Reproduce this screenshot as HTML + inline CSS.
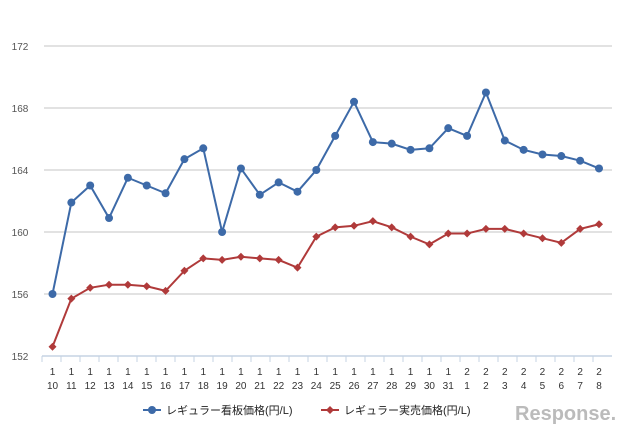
<!DOCTYPE html>
<html><head><meta charset="utf-8"><style>
body{margin:0;background:#fff;width:640px;height:435px;overflow:hidden}
svg text{font-family:"Liberation Sans","Noto Sans CJK JP",sans-serif}
</style></head><body>
<svg id="c" width="640" height="435"></svg>
<script>
const dates=["1/10","1/11","1/12","1/13","1/14","1/15","1/16","1/17","1/18","1/19","1/20","1/21","1/22","1/23","1/24","1/25","1/26","1/27","1/28","1/29","1/30","1/31","2/1","2/2","2/3","2/4","2/5","2/6","2/7","2/8"];
const signPrice=[156,161.9,163,160.9,163.5,163,162.5,164.7,165.4,160,164.1,162.4,163.2,162.6,164,166.2,168.4,165.8,165.7,165.3,165.4,166.7,166.2,169,165.9,165.3,165,164.9,164.6,164.1];
const actualPrice=[152.6,155.7,156.4,156.6,156.6,156.5,156.2,157.5,158.3,158.2,158.4,158.3,158.2,157.7,159.7,160.3,160.4,160.7,160.3,159.7,159.2,159.9,159.9,160.2,160.2,159.9,159.6,159.3,160.2,160.5];
const yTicks=[152,156,160,164,168,172];
const NS="http://www.w3.org/2000/svg",svg=document.getElementById('c');
function mk(t,a,p){const e=document.createElementNS(NS,t);for(const k in a)e.setAttribute(k,a[k]);(p||svg).appendChild(e);return e;}
const x=i=>52.5+i*(599-52.5)/(dates.length-1);
const y=v=>356-(v-152)*15.5;
yTicks.forEach(t=>{
 if(t>152){const g=mk('line',{x1:44,x2:612,y1:y(t),y2:y(t),stroke:'#d9d9d9','stroke-width':1.5});
 }
 const l=mk('text',{x:20,y:y(t)+4,'font-size':10,fill:'#555','text-anchor':'middle'});l.textContent=t;
 
});
const ax=mk('line',{x1:42,x2:612,y1:356,y2:356,stroke:'#c5d3e3','stroke-width':1.5});

dates.forEach((d,i)=>{
 const tx=42+(i+1)*(570/dates.length);
 const tk=mk('line',{x1:tx-0.5*(570/dates.length)+0.5*(570/dates.length)-(570/dates.length)+ (570/dates.length),x2:0,y1:356,y2:362,stroke:'#c5d3e3'});
 const xx=42+i*(570/dates.length);tk.setAttribute('x1',xx);tk.setAttribute('x2',xx);
 
 const [m,dd]=d.split('/');
 const t1=mk('text',{x:x(i),y:375,'font-size':10,fill:'#333','text-anchor':'middle'});t1.textContent=m;
 
 const t2=mk('text',{x:x(i),y:389,'font-size':10,fill:'#333','text-anchor':'middle'});t2.textContent=dd;
 
});
function series(vals,color,name,diamond){
 const p=mk('polyline',{points:vals.map((v,i)=>x(i)+','+y(v)).join(' '),fill:'none',stroke:color,'stroke-width':2});
 
 vals.forEach((v,i)=>{
  let m;
  if(diamond){const cx=x(i),cy=y(v);m=mk('polygon',{points:`${cx},${cy-4} ${cx+4},${cy} ${cx},${cy+4} ${cx-4},${cy}`,fill:color});}
  else m=mk('circle',{cx:x(i),cy:y(v),r:4,fill:color});
  
 });
}
series(signPrice,'#3d6aa8','sign-price',false);
series(actualPrice,'#b03a3a','actual-price',true);
// legend
const l1=mk('line',{x1:143,x2:161,y1:410,y2:410,stroke:'#3d6aa8','stroke-width':2});

const c1=mk('circle',{cx:152,cy:410,r:4,fill:'#3d6aa8'});

const lt1=mk('text',{x:166,y:414,'font-size':11,fill:'#222'});lt1.textContent='レギュラー看板価格(円/L)';

const l2=mk('line',{x1:321,x2:339,y1:410,y2:410,stroke:'#b03a3a','stroke-width':2});

const c2=mk('polygon',{points:'330,406 334,410 330,414 326,410',fill:'#b03a3a'});

const lt2=mk('text',{x:344,y:414,'font-size':11,fill:'#222'});lt2.textContent='レギュラー実売価格(円/L)';

const wm=mk('text',{x:515,y:420,'font-size':20,fill:'#bbb','font-weight':'bold'});wm.textContent='Response.';

</script>
</body></html>
